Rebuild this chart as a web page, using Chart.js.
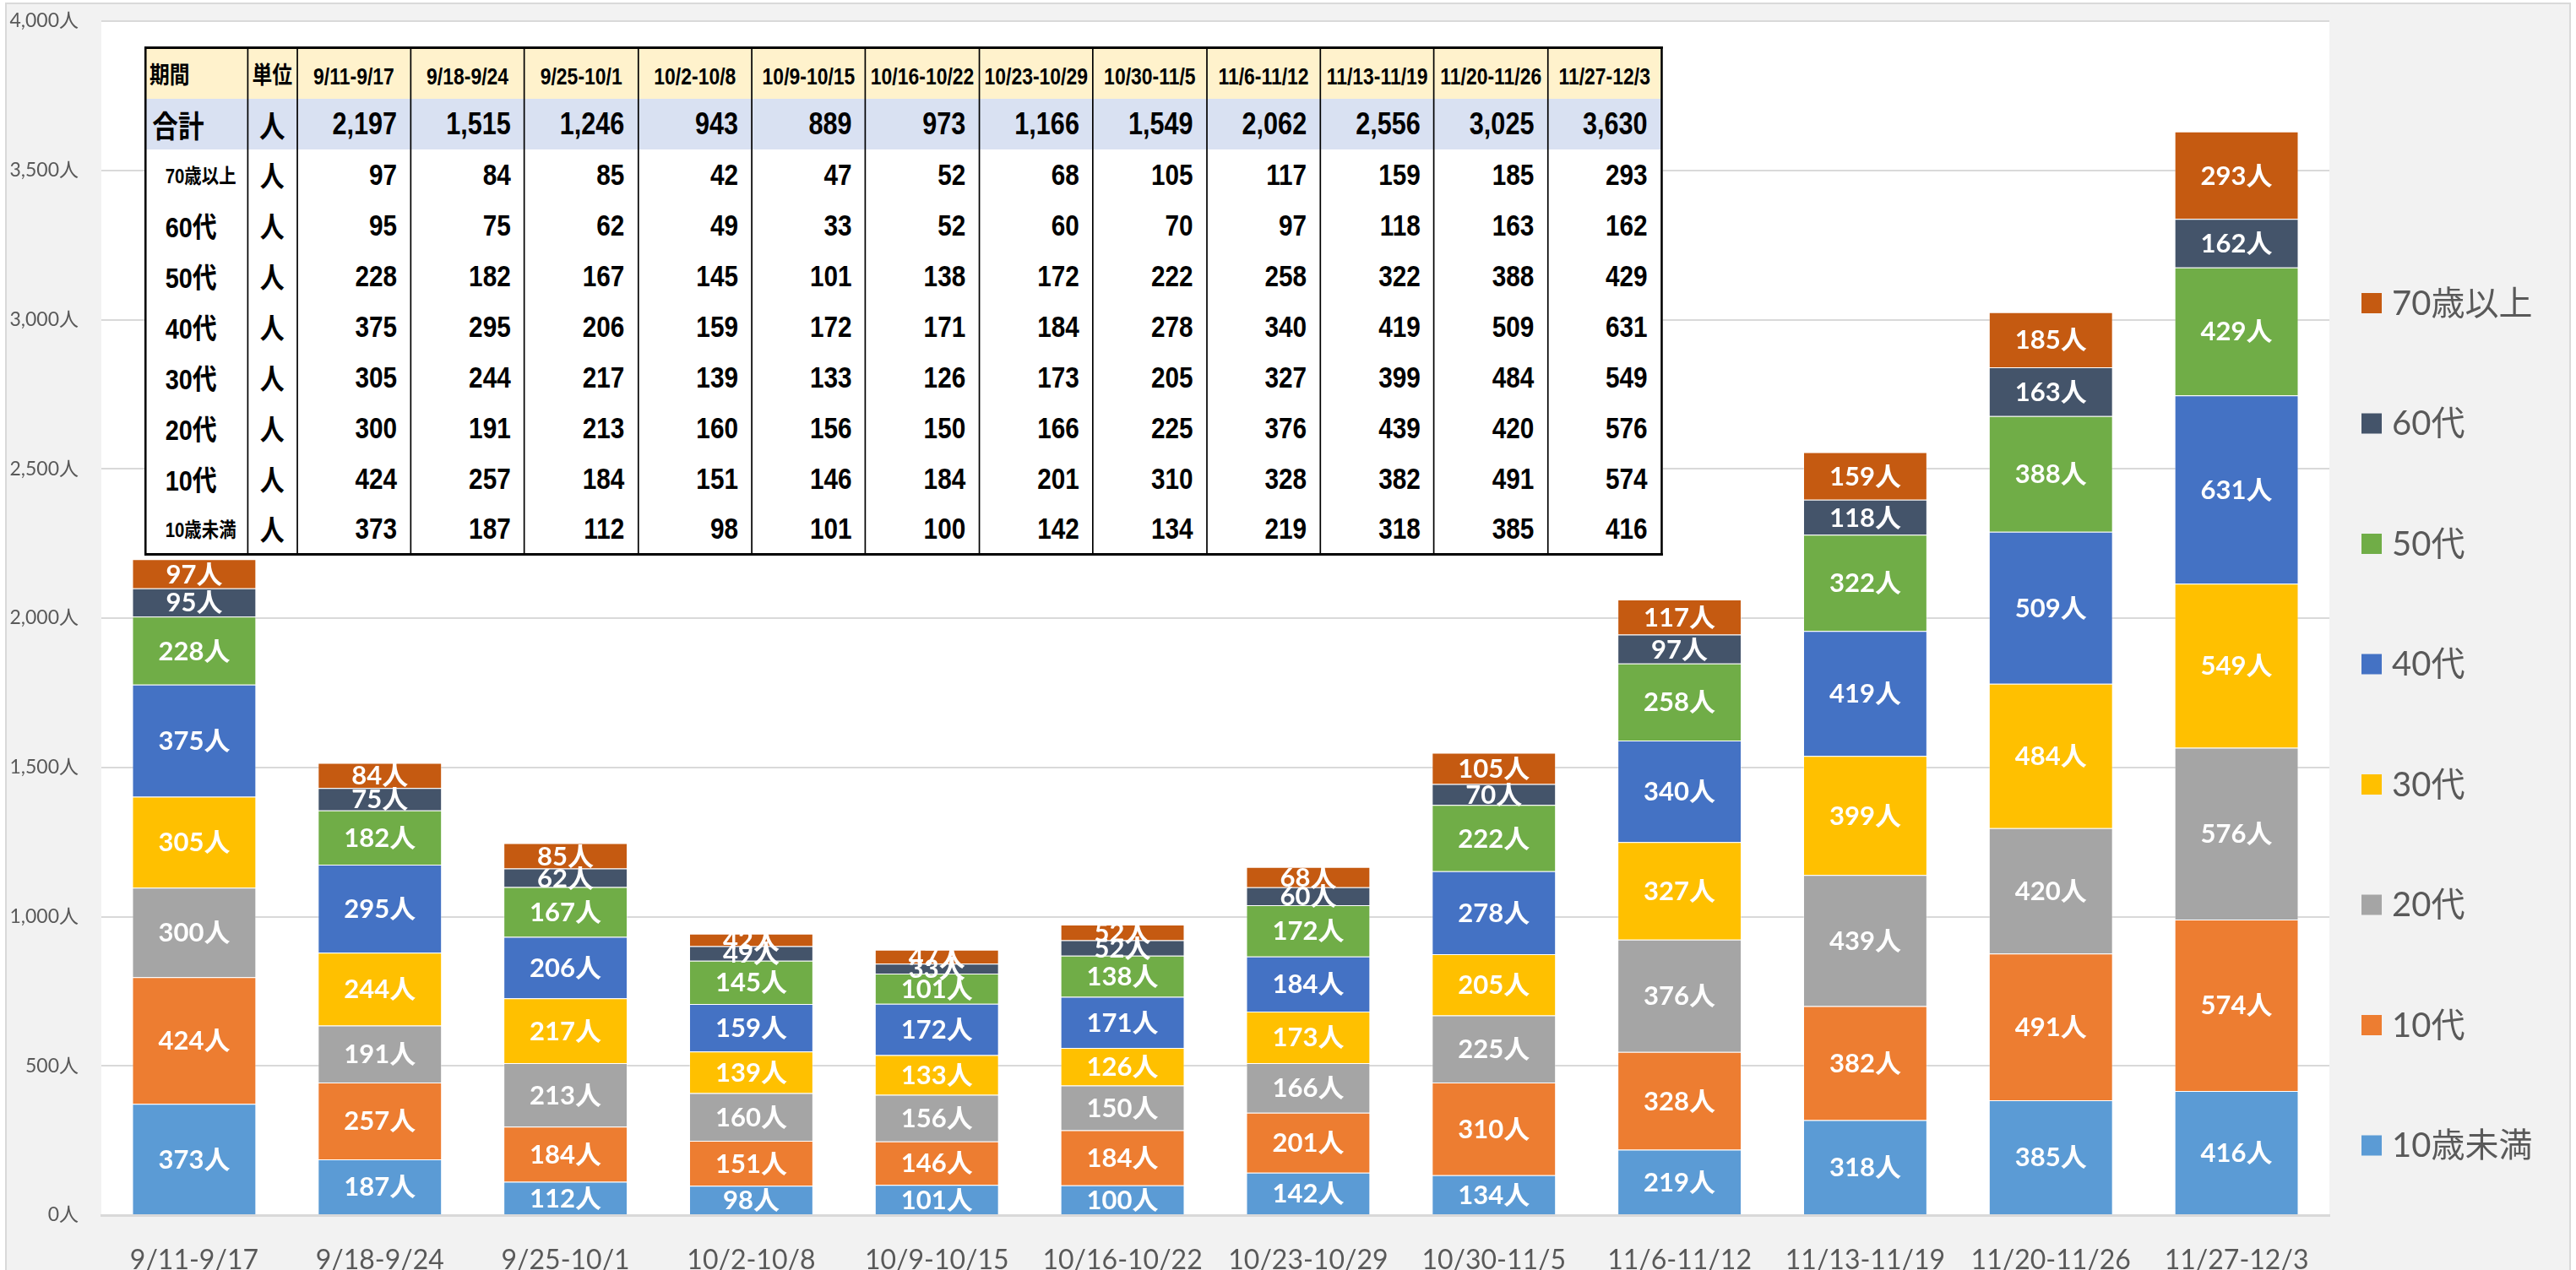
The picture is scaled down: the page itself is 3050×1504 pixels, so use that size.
<!DOCTYPE html>
<html>
<head>
<meta charset="utf-8">
<script src="https://cdn.jsdelivr.net/npm/chart.js@4.4.1/dist/chart.umd.min.js"></script>
<style>
  html, body { margin: 0; padding: 0; background: #ffffff; }
  #wrap { position: relative; width: 3050px; height: 1504px; overflow: hidden; }
  #chart { position: absolute; left: 0; top: 0; }
  #tbl {
    position: absolute; left: 171px; top: 55px;
    transform: scaleX(0.85); transform-origin: left top;
    border-collapse: collapse; table-layout: fixed;
    border: 3px solid #000; background: #fff;
    font-family: 'Liberation Sans', 'Noto Sans CJK JP', sans-serif; font-weight: bold; color: #000;
  }
  #tbl td { height: 60px; padding: 0; border-left: 2px solid #000; border-right: 2px solid #000; box-sizing: border-box; white-space: nowrap; }
  #tbl tr.head td { background: #fff2cc; font-size: 27px; text-align: center; vertical-align: bottom; padding-bottom: 10px; }
  #tbl tr.total td { background: #d9e1f2; font-size: 36px; }
  #tbl td.num { text-align: right; padding-right: 18px; font-size: 35px; }
  #tbl td.unit { text-align: center; font-size: 34px; }
  #tbl td.name { text-align: left; font-size: 34px; }
  #tbl td.name span { display: inline-block; }
</style>
</head>
<body>
<div id="wrap">
  <canvas id="chart" width="3050" height="1504"></canvas>
  <table id="tbl"></table>
</div>
<script>
const periods = ['9/11-9/17', '9/18-9/24', '9/25-10/1', '10/2-10/8', '10/9-10/15', '10/16-10/22',
  '10/23-10/29', '10/30-11/5', '11/6-11/12', '11/13-11/19', '11/20-11/26', '11/27-12/3'];

const ageGroups = ['10歳未満', '10代', '20代', '30代', '40代', '50代', '60代', '70歳以上'];
const ageColors = ['#5b9bd5', '#ed7d31', '#a5a5a5', '#ffc000', '#4472c4', '#70ad47', '#44546a', '#c55a11'];

const under10 = [373, 187, 112, 98, 101, 100, 142, 134, 219, 318, 385, 416];
const teens = [424, 257, 184, 151, 146, 184, 201, 310, 328, 382, 491, 574];
const twenties = [300, 191, 213, 160, 156, 150, 166, 225, 376, 439, 420, 576];
const thirties = [305, 244, 217, 139, 133, 126, 173, 205, 327, 399, 484, 549];
const forties = [375, 295, 206, 159, 172, 171, 184, 278, 340, 419, 509, 631];
const fifties = [228, 182, 167, 145, 101, 138, 172, 222, 258, 322, 388, 429];
const sixties = [95, 75, 62, 49, 33, 52, 60, 70, 97, 118, 163, 162];
const over70 = [97, 84, 85, 42, 47, 52, 68, 105, 117, 159, 185, 293];
const totals = [2197, 1515, 1246, 943, 889, 973, 1166, 1549, 2062, 2556, 3025, 3630];

const yTicks = [0, 500, 1000, 1500, 2000, 2500, 3000, 3500, 4000];

const seriesValues = [under10, teens, twenties, thirties, forties, fifties, sixties, over70];

const LATIN = "Lato, 'Noto Sans CJK JP', sans-serif";
const GREY_TEXT = '#595959';

// ---- table pasted over the chart ----
function buildTable() {
    const tbl = document.getElementById('tbl');
    let html = '<colgroup>';
    [142, 69].concat(periods.map(() => 158.4)).forEach(w => { html += `<col style="width:${w}px">`; });
    html += '</colgroup>';

    html += '<tr class="head"><td class="name" style="text-align:left;font-size:28px"><span style="margin-left:4px">期間</span></td>'
        + '<td class="unit" style="font-size:28px">単位</td>';
    periods.forEach(p => { html += `<td>${p}</td>`; });
    html += '</tr>';

    html += '<tr class="total"><td class="name"><span style="margin-left:8px">合計</span></td><td class="unit">人</td>';
    totals.forEach(v => { html += `<td class="num">${v.toLocaleString('en-US')}</td>`; });
    html += '</tr>';

    for (let i = ageGroups.length - 1; i >= 0; i--) {
        const size = ageGroups[i].includes('歳') ? 24 : 34;
        html += `<tr><td class="name" style="font-size:${size}px"><span style="margin-left:26px">${ageGroups[i]}</span></td><td class="unit">人</td>`;
        seriesValues[i].forEach(v => { html += `<td class="num">${v.toLocaleString('en-US')}</td>`; });
        html += '</tr>';
    }
    tbl.innerHTML = html;
}
buildTable();

// ---- background, plot area, labels, legend ----
const backgroundPlugin = {
    id: 'bg',
    beforeDraw(chart) {
        const { ctx, chartArea, width, height } = chart;
        ctx.save();
        ctx.fillStyle = '#ffffff';
        ctx.fillRect(0, 0, width, height);
        ctx.fillStyle = '#f2f2f2';
        ctx.fillRect(7, 4, width - 14, height);
        ctx.strokeStyle = '#d9d9d9';
        ctx.lineWidth = 2;
        ctx.strokeRect(7, 4, width - 14, height + 10);
        ctx.fillStyle = '#ffffff';
        ctx.fillRect(chartArea.left, chartArea.top, chartArea.right - chartArea.left, chartArea.bottom - chartArea.top);
        ctx.restore();
    }
};

const segmentLabelPlugin = {
    id: 'segmentLabels',
    afterDatasetsDraw(chart) {
        const { ctx } = chart;
        ctx.save();
        ctx.font = `bold 31px ${LATIN}`;
        ctx.fillStyle = '#ffffff';
        ctx.textAlign = 'center';
        ctx.textBaseline = 'middle';
        chart.data.datasets.forEach((ds, di) => {
            const meta = chart.getDatasetMeta(di);
            meta.data.forEach((bar, i) => {
                const y = (bar.y + bar.base) / 2;
                ctx.fillText(ds.data[i] + '人', bar.x, y + 1);
            });
        });
        ctx.restore();
    }
};

const sideLegendPlugin = {
    id: 'sideLegend',
    afterDraw(chart, args, opts) {
        const { ctx } = chart;
        const items = chart.data.datasets.slice().reverse();
        ctx.save();
        ctx.font = `40px ${LATIN}`;
        ctx.textBaseline = 'middle';
        ctx.textAlign = 'left';
        items.forEach((ds, i) => {
            const cy = opts.top + i * opts.step;
            ctx.fillStyle = ds.backgroundColor;
            ctx.fillRect(opts.x, cy - 12, 24, 24);
            ctx.fillStyle = GREY_TEXT;
            ctx.fillText(ds.label, opts.x + 36, cy + 1);
        });
        ctx.restore();
    }
};

const ctx = document.getElementById('chart').getContext('2d');

new Chart(ctx, {
    type: 'bar',
    data: {
        labels: periods,
        datasets: ageGroups.map((name, i) => ({
            label: name,
            data: seriesValues[i],
            backgroundColor: ageColors[i],
            borderColor: 'rgba(255,255,255,0.35)',
            borderWidth: 1,
            categoryPercentage: 1,
            barPercentage: 0.668
        }))
    },
    options: {
        responsive: false,
        devicePixelRatio: 1,
        animation: false,
        layout: { padding: { left: 0, right: 292, top: 25, bottom: 0 } },
        scales: {
            x: {
                stacked: true,
                grid: { display: false },
                border: { display: true, color: '#d9d9d9', width: 3 },
                ticks: {
                    color: GREY_TEXT,
                    font: { family: LATIN, size: 32 },
                    padding: 26,
                    maxRotation: 0,
                    autoSkip: false
                },
                afterFit(scale) { scale.height = 65; }
            },
            y: {
                stacked: true,
                min: yTicks[0],
                max: yTicks[yTicks.length - 1],
                afterBuildTicks(scale) { scale.ticks = yTicks.map(v => ({ value: v })); },
                grid: { color: '#d9d9d9', lineWidth: 2, drawTicks: false },
                border: { display: false },
                ticks: {
                    color: GREY_TEXT,
                    font: { family: LATIN, size: 23 },
                    padding: 27,
                    callback: v => v.toLocaleString('en-US') + '人'
                },
                afterFit(scale) {
                    scale.width = 120;
                    scale.paddingTop = 0;
                    scale.paddingBottom = 0;
                }
            }
        },
        plugins: {
            legend: { display: false },
            tooltip: { enabled: false },
            sideLegend: { x: 2796, top: 359, step: 142.5 }
        }
    },
    plugins: [backgroundPlugin, segmentLabelPlugin, sideLegendPlugin]
});
</script>
</body>
</html>
